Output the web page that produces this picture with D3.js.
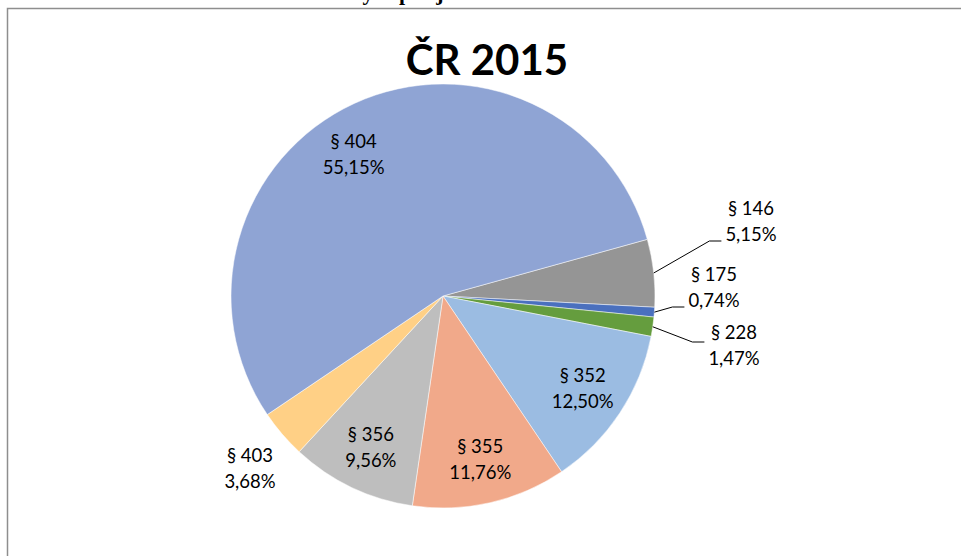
<!DOCTYPE html>
<html>
<head>
<meta charset="utf-8">
<script src="https://cdn.jsdelivr.net/npm/d3@7"></script>
<style>
  body { margin: 0; background: #fff; }
  svg { display: block; }
</style>
</head>
<body>
<div id="main"></div>
<script>
// ČR 2015 - podíl jednotlivých paragrafů
const names = ["§ 146", "§ 175", "§ 228", "§ 352", "§ 355", "§ 356", "§ 403", "§ 404"];
const shares = [5.15, 0.74, 1.47, 12.50, 11.76, 9.56, 3.68, 55.15];
const shareLabels = ["5,15%", "0,74%", "1,47%", "12,50%", "11,76%", "9,56%", "3,68%", "55,15%"];
const colors = ["#959595", "#4A70BE", "#659D3E", "#9BBCE2", "#F1A98A", "#BEBEBE", "#FFD086", "#8FA4D4"];

// label placement (outside labels moved by hand, like in Excel)
const outside = {
    "§ 146": {dx: 308, dy: -75, leader: true},
    "§ 175": {dx: 271, dy: -9, leader: true},
    "§ 228": {dx: 291, dy: 49, leader: true},
    "§ 403": {dx: -193, dy: 172, leader: false}
};
const angleNudge = {"§ 404": -7.5};

const width = 961, height = 556;
const cx = 443, cy = 296, radius = 212;
const deg = Math.PI / 180;
const start = 74.5 * deg;

const svg = d3.select("#main").append("svg")
    .attr("width", width)
    .attr("height", height)
    .style("font-family", "Lato, 'Open Sans', sans-serif");

// bottom of the page caption above the chart (cut off in the original too)
svg.append("g")
    .attr("font-family", "'Liberation Serif', 'DejaVu Serif', serif")
    .attr("font-weight", "bold")
    .attr("font-size", 22)
    .attr("text-anchor", "middle")
    .selectAll("text")
    .data([["y", 368], ["p", 405], ["j", 440]])
    .join("text")
    .attr("x", d => d[1])
    .attr("y", 0)
    .text(d => d[0]);

svg.append("rect")
    .attr("x", 7.5)
    .attr("y", 8.5)
    .attr("width", 980)
    .attr("height", 580)
    .attr("fill", "none")
    .attr("stroke", "#8e8e8e")
    .attr("stroke-width", 1.5);

svg.append("text")
    .attr("x", 487)
    .attr("y", 75)
    .attr("text-anchor", "middle")
    .attr("font-weight", "bold")
    .attr("font-size", 42)
    .attr("fill", "#000")
    .text("ČR 2015");

const data = names.map((n, i) => ({name: n, value: shares[i], label: shareLabels[i], color: colors[i]}));

const pie = d3.pie()
    .sort(null)
    .value(d => d.value)
    .startAngle(start)
    .endAngle(start + 2 * Math.PI);

const arcs = pie(data);
const arc = d3.arc().innerRadius(0).outerRadius(radius);

const g = svg.append("g").attr("transform", `translate(${cx},${cy})`);

g.selectAll("path.slice")
    .data(arcs)
    .join("path")
    .attr("class", "slice")
    .attr("fill", d => d.data.color)
    .attr("stroke", "#fff")
    .attr("stroke-width", 0.5)
    .attr("d", arc);

function labelCenter(d) {
    const o = outside[d.data.name];
    if (o) return [o.dx, o.dy];
    const a = (d.startAngle + d.endAngle) / 2 + (angleNudge[d.data.name] || 0) * deg;
    const r = radius * 0.79;
    return [Math.sin(a) * r, -Math.cos(a) * r];
}

const labels = g.selectAll("g.label")
    .data(arcs)
    .join("g")
    .attr("class", "label")
    .attr("transform", d => {
        const [x, y] = labelCenter(d);
        return `translate(${x},${y})`;
    });

labels.append("text")
    .attr("text-anchor", "middle")
    .attr("font-size", 18.5)
    .attr("fill", "#000")
    .selectAll("tspan")
    .data(d => [d.data.name, d.data.label])
    .join("tspan")
    .attr("x", 0)
    .attr("y", (d, i) => i === 0 ? -6 : 20)
    .text(d => d);

// leader lines for the small slices on the right
const leaderData = arcs.filter(d => outside[d.data.name] && outside[d.data.name].leader);
g.append("g")
    .attr("fill", "none")
    .attr("stroke", "#000")
    .attr("stroke-width", 1)
    .selectAll("path")
    .data(leaderData)
    .join("path")
    .attr("d", d => {
        const a = (d.startAngle + d.endAngle) / 2;
        const ex = Math.sin(a) * radius, ey = -Math.cos(a) * radius;
        const [lx, ly] = labelCenter(d);
        const node = labels.filter(e => e === d).select("text").node();
        const bb = node.getBBox();
        const left = lx + bb.x;
        const ay = ey > ly - 10 ? ly + 20 : ly - 3;
        return `M${ex},${ey}L${left - 16},${ay}L${left - 4},${ay}`;
    });
</script>
</body>
</html>
